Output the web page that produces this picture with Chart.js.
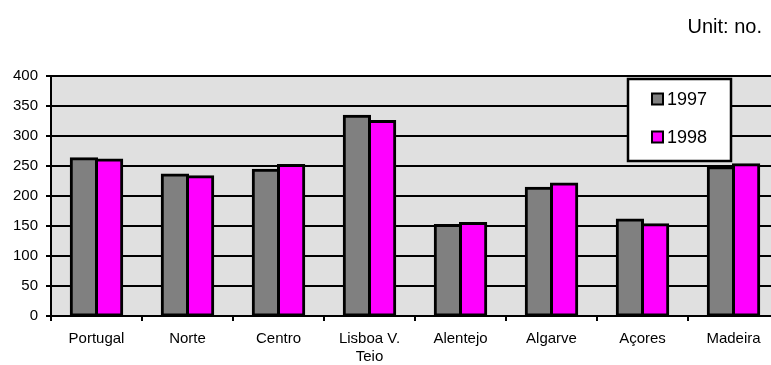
<!DOCTYPE html>
<html>
<head>
<meta charset="utf-8">
<script src="https://cdn.jsdelivr.net/npm/chart.js@4/dist/chart.umd.min.js"></script>
<style>
  html, body { margin: 0; padding: 0; overflow: hidden; background: #fff; }
  #wrap { width: 790px; height: 365px; }
</style>
</head>
<body>
<div id="wrap"><canvas id="regionChart" width="790" height="365"></canvas></div>
<script>
const regions = ["Portugal", "Norte", "Centro", ["Lisboa V.", "Teio"], "Alentejo", "Algarve", "Açores", "Madeira"];
const values1997 = [262, 235, 243, 333, 151, 213, 160, 247];
const values1998 = [260, 232, 251, 324, 154, 220, 152, 252];
const yTicks = [0, 50, 100, 150, 200, 250, 300, 350, 400];
const seriesNames = ["1997", "1998"];
const fontFamily = "'Liberation Sans', Arial, sans-serif";

const plotBackground = {
  id: "plotBackground",
  beforeDraw(chart) {
    const { ctx, chartArea } = chart;
    ctx.save();
    ctx.fillStyle = "#e0e0e0";
    ctx.fillRect(chartArea.left, chartArea.top, chartArea.right - chartArea.left, chartArea.bottom - chartArea.top);
    ctx.restore();
  },
};

// legend box and unit note drawn on top
const boxLegend = {
  id: "boxLegend",
  afterDraw(chart) {
    const ctx = chart.ctx;
    ctx.save();
    ctx.fillStyle = "#fff";
    ctx.strokeStyle = "#000";
    ctx.lineWidth = 2.5;
    ctx.fillRect(628, 79, 103, 82);
    ctx.strokeRect(628, 79, 103, 82);

    chart.data.datasets.forEach((ds, i) => {
      const cy = 99 + i * 38;
      ctx.fillStyle = ds.backgroundColor;
      ctx.fillRect(652, cy - 5.5, 11, 11);
      ctx.lineWidth = 2;
      ctx.strokeRect(652, cy - 5.5, 11, 11);
      ctx.fillStyle = "#000";
      ctx.font = "18px " + fontFamily;
      ctx.textAlign = "left";
      ctx.textBaseline = "middle";
      ctx.fillText(ds.label, 667, cy + 1);
    });

    ctx.font = "20px " + fontFamily;
    ctx.textAlign = "right";
    ctx.textBaseline = "middle";
    ctx.fillStyle = "#000";
    ctx.fillText("Unit: no.", 762, 27);
    ctx.restore();
  },
};

new Chart(document.getElementById("regionChart"), {
  type: "bar",
  data: {
    labels: regions,
    datasets: [
      {
        label: seriesNames[0],
        data: values1997,
        backgroundColor: "#808080",
      },
      {
        label: seriesNames[1],
        data: values1998,
        backgroundColor: "#ff00ff",
      },
    ],
  },
  options: {
    responsive: false,
    animation: false,
    events: [],
    layout: { padding: { top: 76, right: 11, bottom: 0, left: 0 } },
    datasets: {
      bar: {
        categoryPercentage: 0.555,
        barPercentage: 1.0,
        borderColor: "#000",
        borderWidth: 3,
        borderSkipped: false,
        inflateAmount: 1.5,
      },
    },
    plugins: {
      legend: { display: false },
      title: { display: false },
      tooltip: { enabled: false },
    },
    scales: {
      x: {
        grid: {
          offset: true,
          drawOnChartArea: false,
          drawTicks: true,
          tickLength: 5,
          color: "#000",
          lineWidth: 2,
        },
        border: { color: "#000", width: 2 },
        ticks: {
          color: "#000",
          font: { family: fontFamily, size: 15 },
          padding: 9,
          maxRotation: 0,
          autoSkip: false,
        },
        afterFit(axis) {
          axis.height = 49;
        },
      },
      y: {
        min: 0,
        max: 400,
        afterBuildTicks(axis) {
          axis.ticks = yTicks.map((v) => ({ value: v }));
        },
        grid: {
          color: "#000",
          lineWidth: 2,
          tickLength: 5,
          drawTicks: true,
        },
        border: { color: "#000", width: 2 },
        ticks: {
          color: "#000",
          font: { family: fontFamily, size: 15 },
          padding: 8,
        },
        afterFit(axis) {
          axis.width = 51;
        },
      },
    },
  },
  plugins: [plotBackground, boxLegend],
});
</script>
</body>
</html>
